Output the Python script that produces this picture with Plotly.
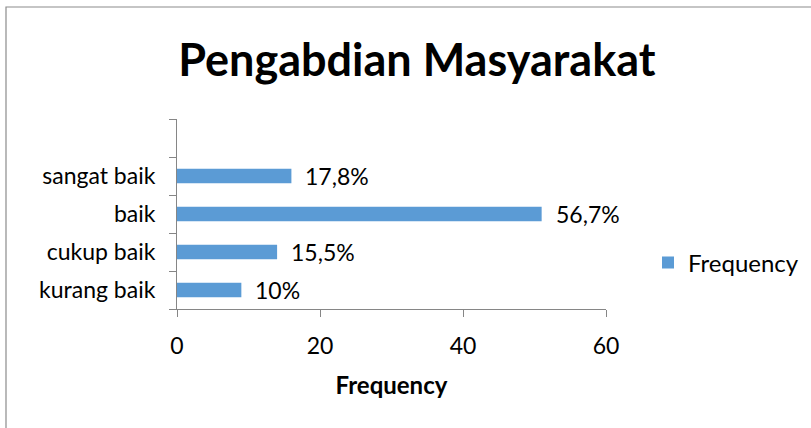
import plotly.graph_objects as go

categories = ["kurang baik", "cukup baik", "baik", "sangat baik"]
frequency = [9, 14, 51, 16]
pct_labels = ["10%", "15,5%", "56,7%", "17,8%"]
x_ticks = [0, 20, 40, 60]

FONT = "Lato"
BAR = "#5B9BD5"
AXIS = "#868686"

fig = go.Figure()
fig.add_trace(go.Bar(
    y=categories, x=frequency, orientation="h", name="Frequency",
    marker=dict(color=BAR, line=dict(width=0)), width=0.38,
))

for c, v, t in zip(categories, frequency, pct_labels):
    fig.add_annotation(x=v, y=c, text=t, showarrow=False, xanchor="left",
                       xshift=12, font=dict(family=FONT, size=23, color="#000000"))

W, H = 811, 428
L, R, T, B = 177, 811 - 606, 119, 428 - 309
pw, ph = W - L - R, H - T - B

def px(x):
    return (x - L) / pw

def py(y):
    return (H - B - y) / ph

fig.add_shape(type="rect", xref="paper", yref="paper",
              x0=px(6), x1=px(830), y0=py(7), y1=py(450),
              line=dict(color="#8C8C8C", width=1.2), fillcolor="rgba(0,0,0,0)", layer="below")

fig.update_layout(
    width=W, height=H,
    margin=dict(l=L, r=R, t=T, b=B, autoexpand=False),
    paper_bgcolor="white", plot_bgcolor="white",
    title=dict(text="<b>Pengabdian Masyarakat</b>", x=0.514, xanchor="center",
               y=1 - 60 / H, yanchor="middle",
               font=dict(family=FONT, size=45, color="#000000")),
    font=dict(family=FONT, color="#000000"),
    showlegend=True,
    legend=dict(x=px(648), xanchor="left", y=py(263), yanchor="middle",
                font=dict(family=FONT, size=24, color="#000000"),
                bgcolor="rgba(0,0,0,0)"),
    bargap=0.62,
    xaxis=dict(range=[0, 60], tickvals=x_ticks, ticktext=[str(v) for v in x_ticks],
               showgrid=False, zeroline=False, showline=True, linecolor=AXIS, linewidth=1,
               ticks="outside", ticklen=7, tickcolor=AXIS, ticklabelstandoff=9,
               tickfont=dict(family=FONT, size=23, color="#000000"),
               title=dict(text="<b>Frequency</b>", standoff=19,
                          font=dict(family=FONT, size=24, color="#000000"))),
    yaxis=dict(type="category", categoryorder="array",
               categoryarray=categories + [" "],
               range=[-0.5, 4.5], tickson="boundaries",
               showgrid=False, zeroline=False, showline=True, linecolor=AXIS, linewidth=1,
               ticks="outside", ticklen=7, tickcolor=AXIS, ticklabelstandoff=16,
               tickfont=dict(family=FONT, size=23, color="#000000")),
)

fig.write_html("out.html", config={"displayModeBar": False},
               post_script="document.body.style.margin='0';")
